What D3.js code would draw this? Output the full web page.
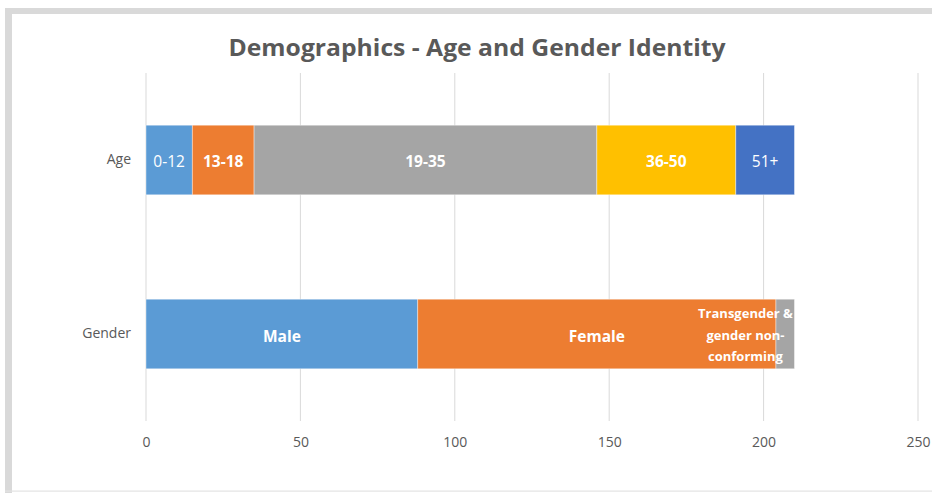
<!DOCTYPE html>
<html>
<head>
<meta charset="utf-8">
<script src="https://cdn.jsdelivr.net/npm/d3@7"></script>
<style>
  html, body { margin: 0; padding: 0; background: #fff; }
  svg { display: block; }
</style>
</head>
<body>
<svg id="chart" width="932" height="493"></svg>
<script>
const title = "Demographics  - Age and Gender Identity";
const categories = ["Age", "Gender"];
const ageGroups = ["0-12", "13-18", "19-35", "36-50", "51+"];
const ageValues = [15, 20, 111, 45, 19];
const genderGroups = ["Male", "Female", "Transgender & gender non-conforming"];
const genderValues = [88, 116, 6];
const tickValues = [0, 50, 100, 150, 200, 250];

const svg = d3.select("#chart");
const W = 932, H = 493;
const font = "'Open Sans', 'Liberation Sans', sans-serif";

// frame
svg.append("rect").attr("x", 0).attr("y", 0).attr("width", W).attr("height", H).attr("fill", "#fff");
svg.append("rect").attr("x", 5).attr("y", 8).attr("width", W - 5).attr("height", 6).attr("fill", "#d9d9d9");
svg.append("rect").attr("x", 5).attr("y", 8).attr("width", 7).attr("height", H - 8).attr("fill", "#d9d9d9");
svg.append("rect").attr("x", 5).attr("y", 490.5).attr("width", W - 5).attr("height", 1.2).attr("fill", "#e3e3e3");

const x = d3.scaleLinear().domain([0, 250]).range([146, 918]);
const y = d3.scaleBand().domain(categories).range([73, 421]).paddingInner(0.6).paddingOuter(0.3);

// gridlines
svg.append("g").selectAll("line").data(tickValues).join("line")
  .attr("x1", d => x(d)).attr("x2", d => x(d))
  .attr("y1", 73).attr("y2", 421)
  .attr("stroke", "#d9d9d9").attr("stroke-width", 1);

// x axis labels
const xAxis = d3.axisBottom(x).tickValues(tickValues).tickSize(0).tickPadding(0).tickFormat(d3.format("d"));
const gx = svg.append("g").attr("transform", "translate(0,434)").call(xAxis);
gx.select(".domain").remove();
gx.selectAll("text").attr("font-family", font).attr("font-size", 14).attr("fill", "#595959").attr("dy", "0.9em");

// y axis labels
const yAxis = d3.axisLeft(y).tickSize(0).tickPadding(0);
const gy = svg.append("g").attr("transform", "translate(131,0)").call(yAxis);
gy.select(".domain").remove();
gy.selectAll("text").attr("font-family", font).attr("font-size", 14).attr("fill", "#595959");

const colors = ["#5B9BD5", "#ED7D31", "#A5A5A5", "#FFC000", "#4472C4"];
const lightLabels = new Set(["0-12", "51+"]);

function stack(names, values) {
  let acc = 0;
  return names.map((n, i) => {
    const s = { name: n, x0: acc, x1: acc + values[i], color: colors[i] };
    acc += values[i];
    return s;
  });
}

const rows = [
  { cat: "Age", segs: stack(ageGroups, ageValues) },
  { cat: "Gender", segs: stack(genderGroups, genderValues) }
];

rows.forEach(row => {
  const g = svg.append("g");
  g.selectAll("rect").data(row.segs).join("rect")
    .attr("x", d => x(d.x0)).attr("width", d => x(d.x1) - x(d.x0))
    .attr("y", y(row.cat)).attr("height", y.bandwidth())
    .attr("fill", d => d.color)
    .attr("stroke", "#ffffff").attr("stroke-opacity", 0.5).attr("stroke-width", 0.8);
});

const cyAge = y("Age") + y.bandwidth() / 2;
const cyGen = y("Gender") + y.bandwidth() / 2;

// Age labels
svg.append("g").selectAll("text").data(rows[0].segs).join("text")
  .attr("x", d => (x(d.x0) + x(d.x1)) / 2).attr("y", cyAge + 1)
  .attr("text-anchor", "middle").attr("dominant-baseline", "central")
  .attr("font-family", font).attr("font-size", 15.5)
  .attr("font-weight", d => lightLabels.has(d.name) ? 400 : 700)
  .attr("fill", "#ffffff")
  .text(d => d.name);

// Gender labels (first two centered)
svg.append("g").selectAll("text").data(rows[1].segs.slice(0, 2)).join("text")
  .attr("x", d => (x(d.x0) + x(d.x1)) / 2).attr("y", cyGen + 2)
  .attr("text-anchor", "middle").attr("dominant-baseline", "central")
  .attr("font-family", font).attr("font-size", 15.5).attr("font-weight", 700)
  .attr("fill", "#ffffff")
  .text(d => d.name);

// Transgender label, wrapped in three lines, right-aligned box at segment end
const tg = rows[1].segs[2];
const tgLines = ["Transgender &", "gender non-", "conforming"];
svg.append("g").selectAll("text").data(tgLines).join("text")
  .attr("x", x(tg.x1) - 49)
  .attr("y", (d, i) => cyGen - 21 + i * 21.5)
  .attr("text-anchor", "middle").attr("dominant-baseline", "central")
  .attr("font-family", font).attr("font-size", 13).attr("font-weight", 700)
  .attr("fill", "#ffffff")
  .text(d => d);

// title
svg.append("text")
  .attr("x", 477).attr("y", 56)
  .attr("text-anchor", "middle")
  .attr("font-family", font).attr("font-size", 23).attr("font-weight", 700)
  .attr("fill", "#595959")
  .attr("textLength", 497).attr("lengthAdjust", "spacingAndGlyphs")
  .text(title);
</script>
</body>
</html>
